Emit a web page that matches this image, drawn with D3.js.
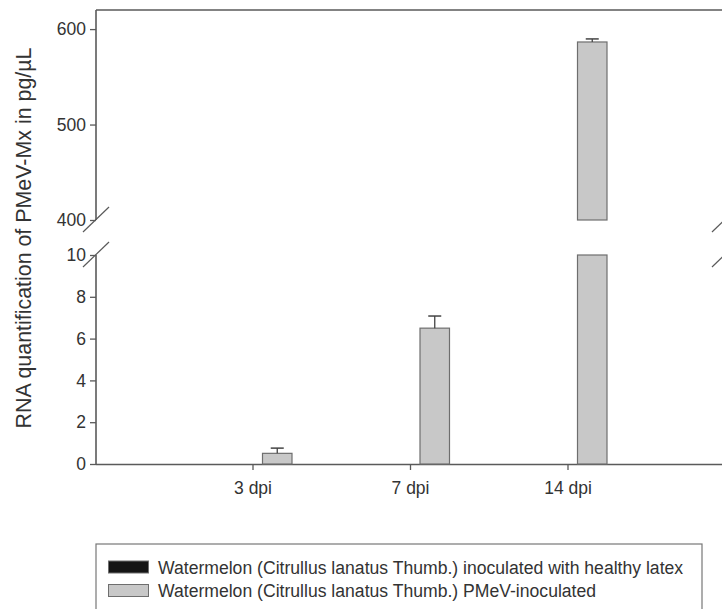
<!DOCTYPE html>
<html><head><meta charset="utf-8">
<script src="https://cdn.jsdelivr.net/npm/d3@7"></script>
<style>body{margin:0;background:#fff}svg{display:block}text{font-family:"Liberation Sans",Arial,sans-serif;fill:#333}</style>
</head><body>
<script>
const categories = ["3 dpi","7 dpi","14 dpi"];
const seriesNames = ["Watermelon (Citrullus lanatus Thumb.) inoculated with healthy latex","Watermelon (Citrullus lanatus Thumb.) PMeV-inoculated"];
const healthyValues = [0,0,0];
const healthyErrors = [0,0,0];
const pmevValues = [0.51,6.5,586.5];
const pmevErrors = [0.25,0.58,3.2];
const lowerTicks = [0,2,4,6,8,10];
const upperTicks = [400,500,600];
const yTitle = "RNA quantification of PMeV-Mx in pg/µL";

const W=722,H=609;
const svg=d3.select("body").append("svg").attr("width",W).attr("height",H);
const axisColor="#5a5a5a";
const xLeft=96, xRight=725;
const yLow=d3.scaleLinear().domain([0,10]).range([464,255]);
const yUp=d3.scaleLinear().domain([400,620]).range([220,10]);
const x=d3.scaleBand().domain(categories).range([174.25,646.75]);
const xs=d3.scaleBand().domain(["healthy","pmev"]).range([-29.5,39]).paddingInner(0.2436);

// axes
const gL=svg.append("g").attr("transform",`translate(${xLeft},0)`);
const axL=gL.append("g").call(d3.axisLeft(yLow).tickValues(lowerTicks).tickSize(6).tickPadding(4));
const axU=gL.append("g").call(d3.axisLeft(yUp).tickValues(upperTicks).tickSize(6).tickPadding(4));
[axL,axU].forEach(a=>{
  a.select(".domain").remove();
  a.selectAll(".tick line").attr("stroke",axisColor).attr("stroke-width",1.3);
  a.selectAll(".tick text").style("font-size","17.5px").attr("fill","#333");
});
// axis lines
const lines=[
  [xLeft,yUp(620),xLeft,yUp(400)],
  [xLeft,yLow(10),xLeft,yLow(0)],
  [xRight,yUp(620),xRight,yUp(400)],
  [xRight,yLow(10),xRight,yLow(0)],
  [xLeft,yUp(620),xRight,yUp(620)],
];
svg.selectAll("line.ax").data(lines).join("line").attr("class","ax")
  .attr("x1",d=>d[0]).attr("y1",d=>d[1]).attr("x2",d=>d[2]).attr("y2",d=>d[3])
  .attr("stroke",axisColor).attr("stroke-width",1.6);
// bottom axis
const axB=svg.append("g").attr("transform",`translate(0,${yLow(0)})`)
  .call(d3.axisBottom(x).tickSize(6).tickPadding(12));
axB.select(".domain").attr("d",`M${xLeft},0.5H${xRight}`).attr("stroke",axisColor).attr("stroke-width",1.6);
axB.selectAll(".tick line").attr("stroke",axisColor).attr("stroke-width",1.3);
axB.selectAll(".tick text").style("font-size","17.5px").attr("fill","#333");

// break marks
[xLeft,xRight].forEach(cx=>{
  [yUp(400),yLow(10)].forEach(cy=>{
    svg.append("line").attr("x1",cx-13).attr("y1",cy+12).attr("x2",cx+13).attr("y2",cy-13)
      .attr("stroke",axisColor).attr("stroke-width",1.2);
  });
});

// bars
const bw=xs.bandwidth();
function drawBar(cat,val,err,key,fill){
  const bx=x(cat)+x.bandwidth()/2+xs(key);
  if(val<=0) return;
  if(val<=10){
    svg.append("rect").attr("x",bx).attr("y",yLow(val)).attr("width",bw).attr("height",yLow(0)-yLow(val))
      .attr("fill",fill).attr("stroke","#6e6e6e").attr("stroke-width",1.2);
  } else {
    svg.append("rect").attr("x",bx).attr("y",yLow(10)).attr("width",bw).attr("height",yLow(0)-yLow(10))
      .attr("fill",fill).attr("stroke","#6e6e6e").attr("stroke-width",1.2);
    svg.append("rect").attr("x",bx).attr("y",yUp(val)).attr("width",bw).attr("height",yUp(400)-yUp(val))
      .attr("fill",fill).attr("stroke","#6e6e6e").attr("stroke-width",1.2);
  }
  const ys=val<=10?yLow:yUp;
  const cxm=bx+bw/2;
  svg.append("line").attr("x1",cxm).attr("x2",cxm).attr("y1",ys(val)).attr("y2",ys(val+err)).attr("stroke","#444").attr("stroke-width",1.3);
  svg.append("line").attr("x1",cxm-6.5).attr("x2",cxm+6.5).attr("y1",ys(val+err)).attr("y2",ys(val+err)).attr("stroke","#444").attr("stroke-width",1.5);
}
categories.forEach((c,i)=>{
  drawBar(c,healthyValues[i],healthyErrors[i],"healthy","#141414");
  drawBar(c,pmevValues[i],pmevErrors[i],"pmev","#c8c8c8");
});

// y title
svg.append("text").attr("transform","translate(31,238) rotate(-90)").attr("text-anchor","middle")
  .style("font-size","21.4px").text(yTitle);

// legend
svg.append("rect").attr("x",96).attr("y",544).attr("width",606).attr("height",100)
  .attr("fill","none").attr("stroke","#777").attr("stroke-width",1.2);
const fills=["#141414","#c8c8c8"];
seriesNames.forEach((n,i)=>{
  const yy=561+i*23.5;
  svg.append("rect").attr("x",108.5).attr("y",yy).attr("width",40).attr("height",12)
    .attr("fill",fills[i]).attr("stroke","#6e6e6e").attr("stroke-width",1);
  svg.append("text").attr("x",158).attr("y",yy+12.5).style("font-size","17.6px").text(n);
});
</script>
</body></html>
